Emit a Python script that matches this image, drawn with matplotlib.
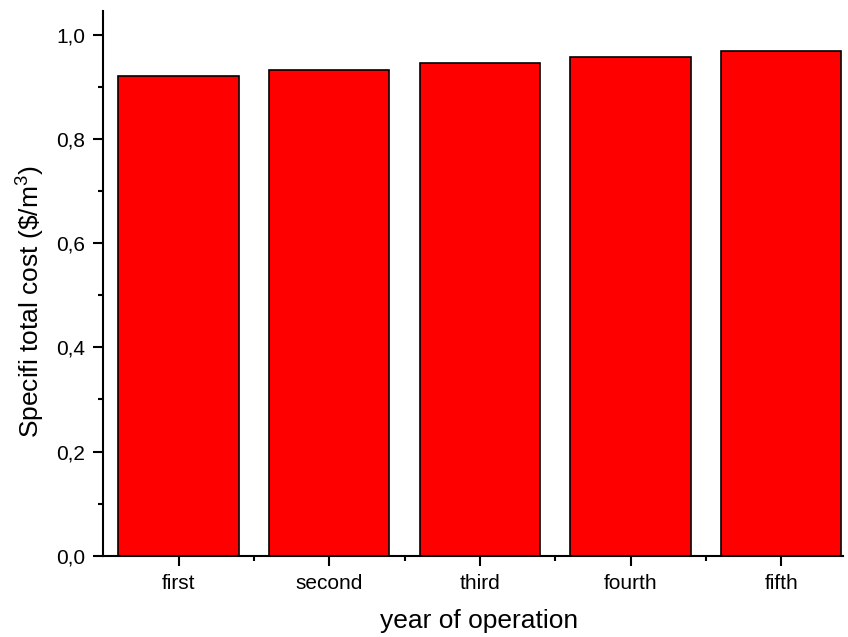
import numpy as np
import matplotlib
matplotlib.use('Agg')
import matplotlib.pyplot as plt
from matplotlib.ticker import MultipleLocator, FuncFormatter, FixedLocator

plt.rcParams['font.family'] = ['Liberation Sans', 'DejaVu Sans']
plt.rcParams['mathtext.fontset'] = 'custom'
plt.rcParams['mathtext.rm'] = 'Liberation Sans'

years = ['first', 'second', 'third', 'fourth', 'fifth']
cost = [0.921, 0.932, 0.945, 0.957, 0.969]

fig = plt.figure(figsize=(8.48, 6.37), dpi=100)
ax = fig.add_axes([0.1218, 0.1276, 0.8722, 0.8556])

x = np.arange(len(years))
ax.bar(x, cost, width=0.8, color='#ff0000', edgecolor='black', linewidth=1.2)

ax.set_xlim(-0.5, 4.41)
ax.set_ylim(0, 1.046)
ax.set_xticks(x)
ax.set_xticklabels(years)
ax.xaxis.set_minor_locator(FixedLocator(np.arange(0.5, 4, 1)))
ax.yaxis.set_major_locator(MultipleLocator(0.2))
ax.yaxis.set_minor_locator(MultipleLocator(0.1))
ax.yaxis.set_major_formatter(FuncFormatter(lambda v, p: f'{v:.1f}'.replace('.', ',')))

for s in ['top', 'right']:
    ax.spines[s].set_visible(False)
for s in ['left', 'bottom']:
    ax.spines[s].set_linewidth(1.5)

ax.tick_params(which='major', length=7, width=1.5, labelsize=15, pad=6)
ax.tick_params(which='minor', length=3.5, width=1.5)

ax.set_xlabel('year of operation', fontsize=19, labelpad=11.5)
ax.set_ylabel('Specifi total cost (\\$/m$^{3}$)', fontsize=19, labelpad=7)
ax.xaxis.label.set_x(0.5086)
ax.yaxis.label.set_y(0.467)

plt.savefig('out.png', dpi=100)
